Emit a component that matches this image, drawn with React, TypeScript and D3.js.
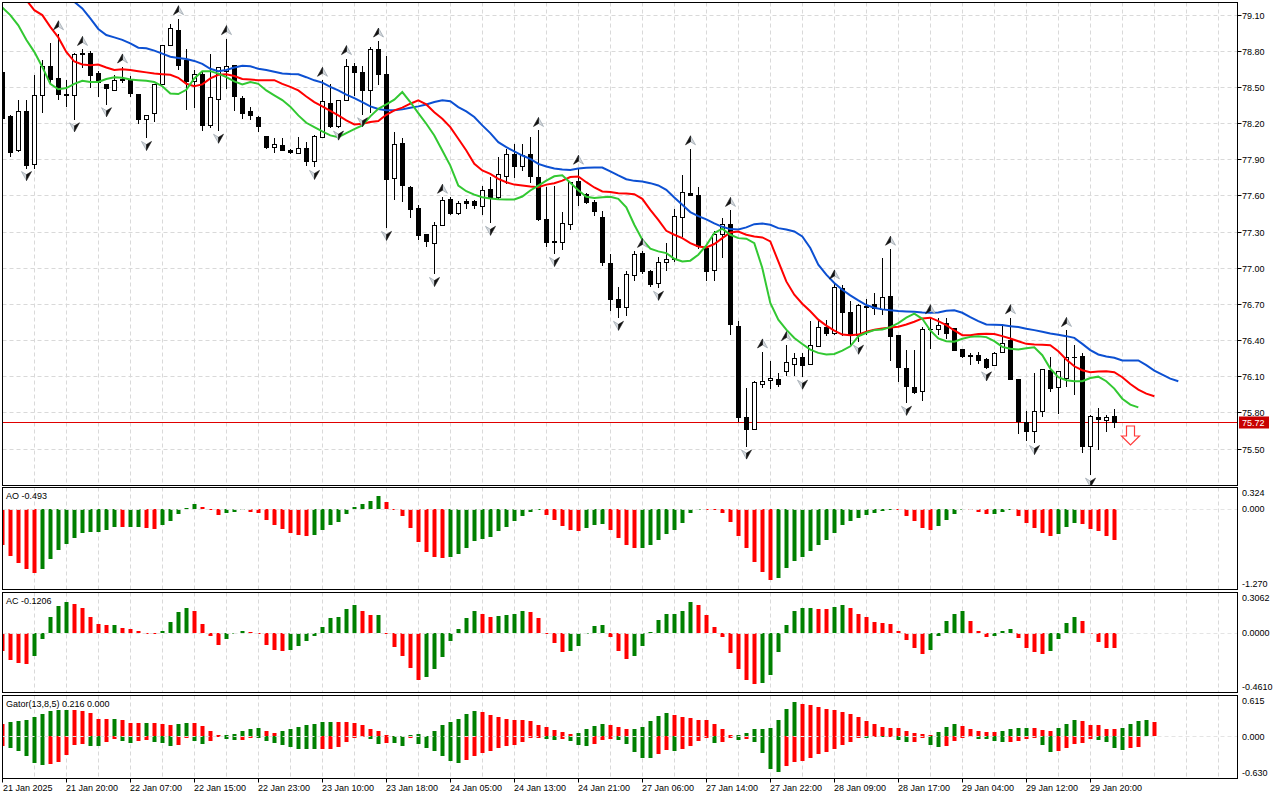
import React from 'react';
import * as d3 from 'd3';

// hourly candles, bar 0 = 21 Jan 2025 12:00
const open = [
  78.62, 78.255, 77.975, 78.3, 77.86, 78.435, 78.675, 78.57, 78.44, 78.43,
  78.78, 78.78, 78.615, 78.52, 78.475, 78.565, 78.565, 78.44, 78.235, 78.28,
  78.525, 78.85, 78.975, 78.72, 78.545, 78.61, 78.185, 78.395, 78.63, 78.685,
  78.41, 78.3, 78.25, 78.09, 78.005, 78.02, 77.975, 77.953, 77.99, 77.883,
  78.083, 78.368, 78.172, 78.393, 78.67, 78.626, 78.47, 78.817, 78.604, 77.742,
  78.036, 77.667, 77.495, 77.279, 77.204, 77.354, 77.57, 77.454, 77.55, 77.55,
  77.515, 77.653, 77.584, 77.758, 77.944, 77.842, 77.944, 77.755, 77.404, 77.22,
  77.21, 77.362, 77.72, 77.61, 77.544, 77.42, 77.038, 76.74, 76.674, 76.936,
  77.118, 76.969, 76.873, 77.047, 77.071, 77.42, 77.618, 77.604, 77.163, 76.978,
  77.281, 77.364, 76.519, 75.76, 75.663, 76.036, 76.066, 76.08, 76.141, 76.204,
  76.26, 76.201, 76.348, 76.508, 76.458, 76.831, 76.632, 76.438, 76.68, 76.695,
  76.654, 76.765, 76.438, 76.168, 76.011, 75.974, 76.493, 76.493, 76.537, 76.501,
  76.329, 76.272, 76.272, 76.244, 76.196, 76.302, 76.396, 76.08, 75.72, 75.642,
  75.814, 76.149, 76.011, 76.085, 76.262, 76.265, 75.522, 75.761, 75.739, 75.766,
];
const high = [
  78.64, 78.27, 78.39, 78.39, 78.6, 78.72, 78.86, 78.94, 78.56, 78.78,
  78.81, 78.8, 78.63, 78.52, 78.595, 78.665, 78.59, 78.44, 78.27, 78.525,
  78.85, 79.025, 79.065, 78.81, 78.64, 78.625, 78.77, 78.665, 78.9, 78.685,
  78.42, 78.33, 78.26, 78.09, 78.075, 78.075, 77.985, 78.083, 78.04, 78.1,
  78.554, 78.526, 78.393, 78.734, 78.7, 78.67, 78.83, 78.88, 78.753, 78.124,
  78.077, 77.68, 77.523, 77.279, 77.376, 77.584, 77.584, 77.556, 77.567, 77.565,
  77.68, 77.75, 77.917, 77.986, 78.027, 78.027, 78.083, 78.138, 77.667, 77.68,
  77.459, 77.714, 77.825, 77.618, 77.563, 77.472, 77.113, 76.84, 76.969, 77.135,
  77.135, 76.983, 77.088, 77.204, 77.486, 77.77, 77.986, 77.673, 77.19, 77.306,
  77.411, 77.475, 76.555, 76.003, 76.064, 76.301, 76.229, 76.127, 76.362, 76.29,
  76.293, 76.555, 76.569, 76.569, 76.873, 76.859, 76.72, 76.695, 76.737, 76.793,
  77.084, 77.153, 76.438, 76.313, 76.321, 76.507, 76.585, 76.585, 76.585, 76.501,
  76.329, 76.293, 76.3, 76.252, 76.3, 76.535, 76.585, 76.08, 75.808, 76.127,
  76.163, 76.258, 76.141, 76.479, 76.357, 76.293, 75.78, 75.836, 75.78, 75.827,
];
const low = [
  78.22, 77.93, 77.97, 77.83, 77.83, 78.29, 78.53, 78.4, 78.34, 78.235,
  78.665, 78.5, 78.42, 78.36, 78.47, 78.54, 78.42, 78.2, 78.08, 78.215,
  78.525, 78.85, 78.65, 78.32, 78.33, 78.145, 78.17, 78.14, 78.49, 78.31,
  78.245, 78.235, 78.135, 77.99, 77.96, 77.98, 77.955, 77.95, 77.855, 77.84,
  78.08, 78.166, 78.166, 78.393, 78.435, 78.277, 78.29, 78.52, 77.334, 77.57,
  77.55, 77.418, 77.237, 77.177, 76.952, 77.354, 77.445, 77.445, 77.495, 77.495,
  77.445, 77.376, 77.57, 77.7, 77.75, 77.806, 77.709, 77.398, 77.182, 77.118,
  77.154, 77.32, 77.522, 77.535, 77.439, 77.025, 76.652, 76.588, 76.605, 76.9,
  76.955, 76.845, 76.837, 76.983, 77.052, 77.26, 77.6, 77.163, 76.9, 76.895,
  77.085, 76.45, 75.732, 75.52, 75.663, 76.008, 76.003, 76.017, 76.108, 76.113,
  76.1, 76.201, 76.348, 76.445, 76.45, 76.445, 76.362, 76.39, 76.446, 76.612,
  76.612, 76.238, 76.058, 75.883, 75.96, 75.905, 76.335, 76.446, 76.418, 76.313,
  76.26, 76.202, 76.21, 76.169, 76.196, 76.3, 76.077, 75.628, 75.572, 75.558,
  75.767, 75.974, 75.794, 76.016, 75.952, 75.475, 75.287, 75.495, 75.642, 75.675,
];
const close = [
  78.24, 77.96, 78.3, 77.85, 78.435, 78.675, 78.565, 78.44, 78.435, 78.77,
  78.77, 78.595, 78.54, 78.49, 78.56, 78.555, 78.45, 78.235, 78.27, 78.525,
  78.85, 78.99, 78.68, 78.545, 78.61, 78.185, 78.415, 78.665, 78.675, 78.42,
  78.28, 78.27, 78.175, 78.0, 78.025, 77.98, 77.96, 77.994, 77.883, 78.094,
  78.38, 78.172, 78.388, 78.676, 78.623, 78.47, 78.817, 78.604, 77.736, 78.027,
  77.686, 77.487, 77.27, 77.218, 77.354, 77.562, 77.454, 77.54, 77.54, 77.523,
  77.645, 77.584, 77.778, 77.944, 77.842, 77.936, 77.758, 77.404, 77.21, 77.215,
  77.37, 77.714, 77.604, 77.544, 77.466, 77.044, 76.74, 76.674, 76.947, 77.113,
  76.969, 76.867, 77.047, 77.071, 77.43, 77.627, 77.604, 77.176, 76.969, 77.281,
  77.364, 76.533, 75.76, 75.663, 76.053, 76.058, 76.086, 76.036, 76.218, 76.251,
  76.196, 76.362, 76.508, 76.458, 76.84, 76.63, 76.439, 76.687, 76.67, 76.668,
  76.757, 76.432, 76.174, 76.016, 75.966, 76.493, 76.49, 76.521, 76.454, 76.321,
  76.266, 76.268, 76.238, 76.177, 76.293, 76.377, 76.077, 75.725, 75.647, 75.808,
  76.163, 76.002, 76.141, 76.26, 76.258, 75.517, 75.766, 75.744, 75.761, 75.72,
];

// Alligator lines, already shifted forward (jaw 8, teeth 5, lips 3)
const jaw = [
  null, null, null, null, null, null, null, null, 79.3, 79.205,
  79.15, 79.067, 78.98, 78.93, 78.91, 78.89, 78.86, 78.825, 78.82, 78.8,
  78.775, 78.75, 78.74, 78.73, 78.715, 78.69, 78.65, 78.63, 78.64, 78.66,
  78.675, 78.67, 78.65, 78.64, 78.625, 78.61, 78.606, 78.604, 78.58, 78.554,
  78.535, 78.5, 78.47, 78.435, 78.407, 78.374, 78.338, 78.316, 78.305, 78.305,
  78.313, 78.327, 78.338, 78.354, 78.374, 78.388, 78.38, 78.332, 78.296, 78.25,
  78.18, 78.116, 78.041, 78.0, 77.964, 77.93, 77.903, 77.861, 77.839, 77.822,
  77.814, 77.81, 77.823, 77.828, 77.831, 77.831, 77.798, 77.765, 77.734, 77.72,
  77.715, 77.701, 77.682, 77.646, 77.582, 77.522, 77.461, 77.428, 77.4, 77.367,
  77.339, 77.32, 77.317, 77.334, 77.361, 77.367, 77.356, 77.328, 77.317, 77.3,
  77.259, 77.163, 77.025, 76.942, 76.873, 76.817, 76.77, 76.728, 76.69, 76.668,
  76.654, 76.646, 76.64, 76.637, 76.634, 76.629, 76.626, 76.629, 76.643, 76.646,
  76.626, 76.59, 76.557, 76.529, 76.526, 76.524, 76.515, 76.507, 76.493, 76.482,
  76.468, 76.454, 76.443, 76.432, 76.418, 76.368, 76.316, 76.28, 76.263, 76.252,
  76.23, 76.23, 76.23, 76.191, 76.146, 76.113, 76.08, 76.058,
];
const teeth = [
  null, null, 79.32, 79.22, 79.136, 79.095, 78.997, 78.91, 78.79, 78.71,
  78.685, 78.68, 78.685, 78.66, 78.64, 78.645, 78.64, 78.63, 78.62, 78.61,
  78.605, 78.6, 78.575, 78.525, 78.505, 78.52, 78.57, 78.6, 78.605, 78.59,
  78.565, 78.56, 78.555, 78.555, 78.555, 78.525, 78.5, 78.47, 78.42, 78.374,
  78.338, 78.3, 78.263, 78.221, 78.188, 78.194, 78.208, 78.216, 78.268, 78.305,
  78.327, 78.36, 78.388, 78.354, 78.29, 78.235, 78.166, 78.069, 77.972, 77.861,
  77.806, 77.778, 77.736, 77.709, 77.689, 77.681, 77.673, 77.667, 77.689, 77.7,
  77.722, 77.752, 77.756, 77.709, 77.665, 77.632, 77.627, 77.618, 77.615, 77.61,
  77.571, 77.48, 77.397, 77.306, 77.273, 77.245, 77.204, 77.176, 77.168, 77.196,
  77.245, 77.292, 77.3, 77.273, 77.259, 77.251, 77.218, 77.052, 76.886, 76.776,
  76.701, 76.638, 76.569, 76.519, 76.478, 76.445, 76.439, 76.445, 76.468, 76.485,
  76.496, 76.504, 76.51, 76.529, 76.551, 76.579, 76.585, 76.557, 76.524, 76.479,
  76.44, 76.44, 76.449, 76.451, 76.449, 76.432, 76.413, 76.39, 76.368, 76.363,
  76.36, 76.357, 76.307, 76.238, 76.182, 76.149, 76.133, 76.138, 76.141, 76.133,
  76.091, 76.035, 75.988, 75.955, 75.933,
];
const lips = [
  79.158, 79.095, 79.01, 78.89, 78.79, 78.665, 78.525, 78.48, 78.49, 78.525,
  78.55, 78.54, 78.54, 78.565, 78.58, 78.575, 78.56, 78.555, 78.55, 78.54,
  78.505, 78.445, 78.44, 78.475, 78.57, 78.63, 78.63, 78.61, 78.58, 78.545,
  78.52, 78.54, 78.525, 78.47, 78.43, 78.39, 78.336, 78.263, 78.202, 78.166,
  78.13, 78.097, 78.083, 78.116, 78.15, 78.18, 78.255, 78.318, 78.354, 78.393,
  78.457, 78.374, 78.282, 78.194, 78.097, 77.972, 77.847, 77.681, 77.634, 77.606,
  77.584, 77.573, 77.567, 77.565, 77.565, 77.59, 77.64, 77.681, 77.722, 77.758,
  77.767, 77.705, 77.643, 77.588, 77.577, 77.585, 77.588, 77.571, 77.5, 77.356,
  77.232, 77.157, 77.135, 77.121, 77.074, 77.052, 77.058, 77.107, 77.185, 77.287,
  77.323, 77.273, 77.245, 77.24, 77.204, 76.997, 76.707, 76.569, 76.486, 76.417,
  76.367, 76.32, 76.293, 76.279, 76.284, 76.312, 76.348, 76.43, 76.46, 76.482,
  76.488, 76.507, 76.54, 76.585, 76.618, 76.576, 76.479, 76.413, 76.39, 76.385,
  76.41, 76.426, 76.432, 76.424, 76.39, 76.343, 76.327, 76.321, 76.332, 76.34,
  76.274, 76.163, 76.091, 76.066, 76.058, 76.058, 76.085, 76.096, 76.058, 75.997,
  75.913, 75.864, 75.841,
];

const ao = [
  -0.578, -0.745, -0.854, -0.958, -1.021, -0.958, -0.802, -0.656, -0.552, -0.458,
  -0.38, -0.37, -0.365, -0.333, -0.292, -0.295, -0.292, -0.29, -0.307, -0.318,
  -0.266, -0.193, -0.083, 0.016, 0.068, 0.021, -0.016, -0.099, -0.068, -0.057,
  -0.031, -0.057, -0.068, -0.177, -0.255, -0.318, -0.385, -0.411, -0.427, -0.411,
  -0.344, -0.255, -0.208, -0.083, 0.031, 0.073, 0.115, 0.193, 0.099, -0.005,
  -0.12, -0.302, -0.536, -0.682, -0.771, -0.786, -0.771, -0.724, -0.63, -0.516,
  -0.474, -0.448, -0.359, -0.292, -0.203, -0.125, -0.047, -0.031, -0.099, -0.177,
  -0.271, -0.344, -0.35, -0.302, -0.255, -0.24, -0.333, -0.458, -0.568, -0.63,
  -0.625, -0.568, -0.49, -0.396, -0.333, -0.224, -0.068, -0.005, -0.01, -0.021,
  -0.068, -0.208, -0.427, -0.63, -0.839, -1.005, -1.13, -1.099, -0.943, -0.833,
  -0.771, -0.672, -0.568, -0.49, -0.38, -0.255, -0.193, -0.146, -0.099, -0.068,
  -0.042, -0.01, -0.031, -0.115, -0.193, -0.302, -0.333, -0.271, -0.177, -0.083,
  -0.016, -0.021, -0.052, -0.083, -0.08, -0.052, -0.031, -0.125, -0.224, -0.302,
  -0.38, -0.427, -0.396, -0.286, -0.224, -0.24, -0.318, -0.349, -0.427, -0.493,
];
const ac = [
  -0.138, -0.21, -0.233, -0.24, -0.179, -0.049, 0.118, 0.207, 0.238, 0.225,
  0.187, 0.118, 0.066, 0.059, 0.06, 0.036, 0.026, 0.01, -0.005, -0.01,
  0.015, 0.079, 0.156, 0.194, 0.164, 0.066, -0.023, -0.095, -0.049, -0.005,
  0.015, 0.008, -0.01, -0.095, -0.133, -0.141, -0.133, -0.102, -0.066, -0.023,
  0.046, 0.11, 0.125, 0.179, 0.21, 0.164, 0.133, 0.135, -0.005, -0.113,
  -0.179, -0.274, -0.363, -0.343, -0.279, -0.184, -0.066, 0.026, 0.11, 0.164,
  0.148, 0.118, 0.13, 0.133, 0.148, 0.164, 0.156, 0.11, -0.005, -0.079,
  -0.148, -0.143, -0.102, -0.005, 0.049, 0.056, -0.033, -0.141, -0.202, -0.182,
  -0.102, 0.005, 0.095, 0.141, 0.148, 0.171, 0.233, 0.217, 0.133, 0.041,
  -0.033, -0.156, -0.281, -0.363, -0.394, -0.386, -0.327, -0.148, 0.056, 0.171,
  0.187, 0.19, 0.185, 0.179, 0.202, 0.217, 0.187, 0.148, 0.118, 0.079,
  0.074, 0.064, 0.01, -0.056, -0.118, -0.164, -0.133, -0.026, 0.087, 0.148,
  0.164, 0.087, 0.015, -0.033, -0.026, 0.01, 0.026, -0.041, -0.118, -0.148,
  -0.164, -0.141, -0.049, 0.072, 0.118, 0.087, -0.013, -0.072, -0.117, -0.1206,
];
const gatorUp = [
  0.19, 0.215, 0.23, 0.24, 0.285, 0.33, 0.388, 0.392, 0.395, 0.39,
  0.385, 0.35, 0.265, 0.262, 0.266, 0.24, 0.205, 0.203, 0.206, 0.204,
  0.18, 0.165, 0.18, 0.205, 0.203, 0.15, 0.075, 0.015, 0.02, 0.04,
  0.08, 0.105, 0.12, 0.075, 0.055, 0.08, 0.105, 0.14, 0.165, 0.19,
  0.215, 0.217, 0.213, 0.21, 0.205, 0.165, 0.105, 0.075, 0.025, 0.005,
  0.008, 0.015, 0.04, 0, 0.075, 0.165, 0.215, 0.265, 0.33, 0.375,
  0.365, 0.325, 0.285, 0.265, 0.25, 0.24, 0.225, 0.175, 0.135, 0.09,
  0.06, 0.04, 0.045, 0.105, 0.15, 0.18, 0.165, 0.135, 0.105, 0.107,
  0.135, 0.225, 0.3, 0.345, 0.315, 0.285, 0.27, 0.25, 0.24, 0.18,
  0.105, 0.015, 0.02, 0.045, 0.105, 0.107, 0.12, 0.24, 0.405, 0.515,
  0.49, 0.465, 0.435, 0.405, 0.39, 0.36, 0.33, 0.285, 0.225, 0.18,
  0.135, 0.12, 0.118, 0.075, 0.045, 0.03, 0.015, 0.06, 0.135, 0.18,
  0.15, 0.105, 0.075, 0.06, 0.058, 0.075, 0.105, 0.12, 0.122, 0.118,
  0.09, 0.075, 0.12, 0.18, 0.24, 0.225, 0.165, 0.163, 0.115, 0.11,
  0.12, 0.19, 0.225, 0.24, 0.216,
];
const gatorDown = [
  -0.145, -0.175, -0.22, -0.295, -0.4, -0.43, -0.415, -0.385, -0.285, -0.13,
  -0.12, -0.145, -0.15, -0.09, -0.04, -0.07, -0.1, -0.065, -0.055, -0.08,
  -0.1, -0.15, -0.135, -0.03, -0.07, -0.12, -0.07, -0.01, -0.04, -0.06,
  -0.055, -0.02, -0.03, -0.07, -0.1, -0.125, -0.165, -0.19, -0.195, -0.196,
  -0.19, -0.185, -0.16, -0.09, -0.03, -0.01, -0.045, -0.11, -0.095, -0.1,
  -0.14, -0.02, -0.11, -0.17, -0.23, -0.3, -0.37, -0.4, -0.36, -0.3,
  -0.25, -0.22, -0.18, -0.15, -0.135, -0.085, -0.03, -0.02, -0.04, -0.06,
  -0.045, -0.07, -0.13, -0.15, -0.12, -0.06, -0.045, -0.06, -0.12, -0.235,
  -0.325, -0.328, -0.27, -0.21, -0.215, -0.195, -0.15, -0.075, -0.025, -0.1,
  -0.08, -0.02, -0.06, -0.045, -0.09, -0.25, -0.49, -0.535, -0.445, -0.385,
  -0.37, -0.325, -0.27, -0.245, -0.195, -0.135, -0.085, -0.025, -0.03, -0.01,
  -0.012, -0.005, -0.06, -0.085, -0.08, -0.02, -0.13, -0.16, -0.15, -0.075,
  -0.025, -0.01, -0.04, -0.045, -0.075, -0.085, -0.08, -0.07, -0.045, -0.025,
  -0.13, -0.235, -0.22, -0.18, -0.12, -0.1, -0.045, -0.055, -0.09, -0.18,
  -0.21, -0.17, -0.16,
];

const fractalUp = [7, 10, 15, 22, 28, 40, 43, 47, 55, 67, 72, 80, 86, 91, 95, 98, 104, 111, 116, 126, 133];
const fractalDown = [3, 9, 13, 18, 27, 39, 42, 45, 48, 54, 61, 69, 77, 82, 93, 100, 107, 113, 123, 129, 136];
const sellSignalBar = 141;

const timeLabels = [
  '21 Jan 2025', '21 Jan 20:00', '22 Jan 07:00', '22 Jan 15:00', '22 Jan 23:00', '23 Jan 10:00',
  '23 Jan 18:00', '24 Jan 05:00', '24 Jan 13:00', '24 Jan 21:00', '27 Jan 06:00', '27 Jan 14:00',
  '27 Jan 22:00', '28 Jan 09:00', '28 Jan 17:00', '29 Jan 04:00', '29 Jan 12:00', '29 Jan 20:00',
];
const priceTicks = [79.1, 78.8, 78.5, 78.2, 77.9, 77.6, 77.3, 77.0, 76.7, 76.4, 76.1, 75.8, 75.5];
const lastPrice = 75.72;

const FONT = '"Liberation Sans", Arial, sans-serif';
const LEFT = 2.5;
const RIGHT = 1237.5;
const GREEN = '#008000';
const RED = '#ff0000';
const GRID = '#d9d9d9';

const x = d3.scaleLinear().domain([0, 1]).range([2.3, 10.3]);
const px = (i: number) => Math.round(x(i));

const panels = {
  main: { top: 2.5, bottom: 485.5 },
  ao: { top: 487.5, bottom: 589.5 },
  ac: { top: 592.5, bottom: 692.5 },
  gator: { top: 695.5, bottom: 778.5 },
};

const yMain = d3.scaleLinear().domain([75.5, 79.1]).range([448.5, 14.5]);
const yAO = d3.scaleLinear().domain([-1.27, 0.324]).range([589, 488]);
const yAC = d3.scaleLinear().domain([-0.461, 0.3062]).range([692.5, 593]);
const yGator = d3.scaleLinear().domain([-0.63, 0.615]).range([778, 695.5]);

const vGrid = d3.range(4, 155, 4);

const Frame = ({ id, top, bottom }: { id: string; top: number; bottom: number }) => (
  <g>
    <clipPath id={id}>
      <rect x={LEFT + 0.5} y={top + 0.5} width={RIGHT - LEFT - 1} height={bottom - top - 1} />
    </clipPath>
    {vGrid.map((k) => (
      <line key={k} x1={px(k) + 0.5} x2={px(k) + 0.5} y1={top} y2={bottom} stroke={GRID} strokeDasharray="4,3" />
    ))}
  </g>
);

const Border = ({ top, bottom }: { top: number; bottom: number }) => (
  <rect x={LEFT} y={top} width={RIGHT - LEFT} height={bottom - top} fill="none" stroke="#000" />
);

// bars from zero; colour by rising/falling compared to the previous bar
function Histogram({ values, y, clip, byMagnitude = false }: {
  values: number[]; y: d3.ScaleLinear<number, number>; clip: string; byMagnitude?: boolean;
}) {
  const y0 = Math.round(y(0));
  return (
    <g clipPath={`url(#${clip})`}>
      {values.map((v, i) => {
        if (v === 0) return null;
        const prev = i > 0 ? values[i - 1] : null;
        const rising = prev !== null && (byMagnitude ? Math.abs(v) > Math.abs(prev) : v > prev);
        const yv = Math.round(y(v));
        const top = Math.min(y0, yv);
        const h = Math.max(1, Math.abs(yv - y0));
        return <rect key={i} x={px(i) - 1.5} y={top} width={4} height={h} fill={rising ? GREEN : RED} />;
      })}
    </g>
  );
}

function ZeroLine({ y }: { y: d3.ScaleLinear<number, number> }) {
  const yy = Math.round(y(0)) + 0.5;
  return <line x1={LEFT} x2={RIGHT} y1={yy} y2={yy} stroke="#e4e4e4" strokeDasharray="4,3" />;
}

function AxisLabels({ values, y, digits, top, bottom }: {
  values: number[]; y: d3.ScaleLinear<number, number>; digits: number; top: number; bottom: number;
}) {
  return (
    <g fontFamily={FONT} fontSize={9} fill="#000">
      {values.map((v) => {
        const yy = Math.max(top + 5.5, Math.min(bottom - 5.5, y(v)));
        return <text key={v} x={1242} y={yy + 3.3}>{v.toFixed(digits)}</text>;
      })}
    </g>
  );
}

function Fractal({ i, up }: { i: number; up: boolean }) {
  const cx = px(i) + 0.5;
  const s = up ? 1 : -1;
  const tip = up ? yMain(high[i]) - 13 : yMain(low[i]) + 13;
  const dark = `M${cx},${tip} L${cx},${tip + 6 * s} L${cx - 5 * s},${tip + 9 * s} Z`;
  const light = `M${cx},${tip} L${cx + 5 * s},${tip + 9 * s} L${cx},${tip + 6 * s} Z`;
  return (
    <g>
      <path d={light} fill="#d4d8dc" stroke="#8a96a0" strokeWidth={0.6} />
      <path d={dark} fill="#111" stroke="#111" strokeWidth={0.6} />
    </g>
  );
}

export default function App() {
  const line = d3.line<number | null>()
    .defined((v) => v !== null)
    .x((_, i) => x(i))
    .y((v) => yMain(v as number));

  const priceY = Math.round(yMain(lastPrice)) + 0.5;
  const sx = px(sellSignalBar) + 0.5;

  return (
    <svg width={1280} height={800} style={{ position: 'absolute', left: 0, top: 0, background: '#fff' }}>
      <rect width={1280} height={800} fill="#fff" />

      {/* main chart */}
      <Frame id="clip-main" {...panels.main} />
      {priceTicks.map((p) => {
        const yy = Math.round(yMain(p)) + 0.5;
        return <line key={p} x1={LEFT} x2={RIGHT} y1={yy} y2={yy} stroke={GRID} strokeDasharray="4,3" />;
      })}
      <g clipPath="url(#clip-main)">
        <line x1={LEFT} x2={RIGHT} y1={priceY} y2={priceY} stroke="#e00000" />
        {open.map((o, i) => {
          const c = close[i];
          const xc = px(i);
          const yO = Math.round(yMain(o));
          const yC = Math.round(yMain(c));
          const top = Math.min(yO, yC);
          const bot = Math.max(yO, yC);
          const bull = c > o;
          return (
            <g key={i}>
              <line x1={xc + 0.5} x2={xc + 0.5} y1={Math.round(yMain(high[i]))} y2={Math.round(yMain(low[i])) + 1} stroke="#000" />
              {bull ? (
                <rect x={xc - 1.5} y={top + 0.5} width={4} height={Math.max(1, bot - top)} fill="#fff" stroke="#000" />
              ) : (
                <rect x={xc - 2} y={top} width={5} height={Math.max(1, bot - top + 1)} fill="#000" />
              )}
            </g>
          );
        })}
        <path d={line(jaw) ?? ''} fill="none" stroke="#0c50d2" strokeWidth={2} />
        <path d={line(teeth) ?? ''} fill="none" stroke="#ff0000" strokeWidth={2} />
        <path d={line(lips) ?? ''} fill="none" stroke="#32c832" strokeWidth={2} />
        {fractalUp.map((i) => <Fractal key={`u${i}`} i={i} up />)}
        {fractalDown.map((i) => <Fractal key={`d${i}`} i={i} up={false} />)}
        <path
          d={`M${sx - 4},426 L${sx + 4},426 L${sx + 4},436 L${sx + 9},436 L${sx},445 L${sx - 9},436 L${sx - 4},436 Z`}
          fill="#fff" stroke="#ff3b3b" strokeWidth={1.2}
        />
      </g>
      <Border {...panels.main} />
      {priceTicks.map((p) => {
        const yy = Math.round(yMain(p)) + 0.5;
        return (
          <g key={p}>
            <line x1={RIGHT} x2={RIGHT + 4} y1={yy} y2={yy} stroke="#000" />
            <text x={1242} y={yy + 3.3} fontFamily={FONT} fontSize={9}>{p.toFixed(2)}</text>
          </g>
        );
      })}
      <rect x={1239} y={priceY - 6} width={30} height={12} fill="#c80000" />
      <text x={1242} y={priceY + 3.3} fontFamily={FONT} fontSize={9} fill="#fff">{lastPrice.toFixed(2)}</text>

      {/* Awesome Oscillator */}
      <Frame id="clip-ao" {...panels.ao} />
      <Histogram values={ao} y={yAO} clip="clip-ao" />
      <ZeroLine y={yAO} />
      <Border {...panels.ao} />
      <text x={6} y={499} fontFamily={FONT} fontSize={9}>{`AO ${ao[ao.length - 1].toFixed(3)}`}</text>
      <AxisLabels values={[0.324, 0, -1.27]} y={yAO} digits={3} {...panels.ao} />

      {/* Accelerator Oscillator */}
      <Frame id="clip-ac" {...panels.ac} />
      <Histogram values={ac} y={yAC} clip="clip-ac" />
      <ZeroLine y={yAC} />
      <Border {...panels.ac} />
      <text x={6} y={604} fontFamily={FONT} fontSize={9}>{`AC ${ac[ac.length - 1].toFixed(4)}`}</text>
      <AxisLabels values={[0.3062, 0, -0.461]} y={yAC} digits={4} {...panels.ac} />

      {/* Gator */}
      <Frame id="clip-gator" {...panels.gator} />
      <Histogram values={gatorUp} y={yGator} clip="clip-gator" />
      <Histogram values={gatorDown} y={yGator} clip="clip-gator" byMagnitude />
      <ZeroLine y={yGator} />
      <Border {...panels.gator} />
      <text x={6} y={707} fontFamily={FONT} fontSize={9}>
        {`Gator(13,8,5) ${gatorUp[gatorUp.length - 1].toFixed(3)} ${(0).toFixed(3)}`}
      </text>
      <AxisLabels values={[0.615, 0, -0.63]} y={yGator} digits={3} {...panels.gator} />

      {/* time axis */}
      {timeLabels.map((t, j) => {
        const xx = px(j * 8) + 0.5;
        return (
          <g key={t}>
            <line x1={xx} x2={xx} y1={panels.gator.bottom} y2={panels.gator.bottom + 4} stroke="#000" />
            <text x={Math.max(3, xx - 0.5)} y={791} fontFamily={FONT} fontSize={9}>{t}</text>
          </g>
        );
      })}
    </svg>
  );
}
